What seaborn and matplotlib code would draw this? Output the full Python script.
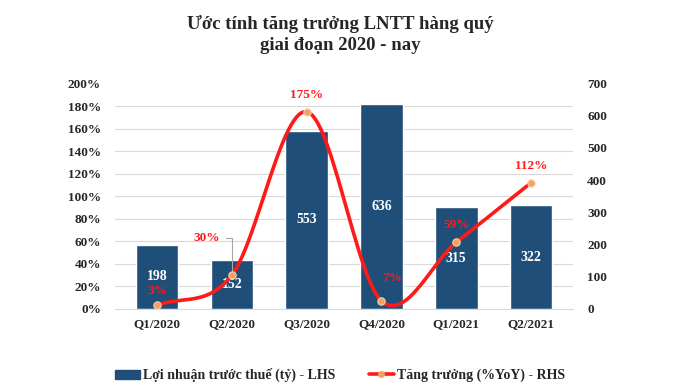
import numpy as np
import pandas as pd
import seaborn as sns
import matplotlib.pyplot as plt
from matplotlib.lines import Line2D
from matplotlib.patches import Patch

quarters = ["Q1/2020", "Q2/2020", "Q3/2020", "Q4/2020", "Q1/2021", "Q2/2021"]
profit = [198, 152, 553, 636, 315, 322]
growth = [3, 30, 175, 7, 59, 112]

sns.set_style("white")
plt.rcParams["font.family"] = ["Liberation Serif", "DejaVu Serif"]
plt.rcParams["font.weight"] = "bold"

bar_color = "#1f4e79"
line_color = "#ff1a1a"
dot_color = "#f4a15d"

df = pd.DataFrame({"quarter": quarters, "profit": profit, "growth": growth})

fig = plt.figure(figsize=(6.8, 3.87), dpi=100)
ax = fig.add_axes([0.169, 0.202, 0.674, 0.582])

# bars (right scale)
sns.barplot(data=df, x="quarter", y="profit", color=bar_color, width=0.57,
            saturation=1, ax=ax)
ax.set_ylim(0, 700)
ax.set_xlabel("")
ax.set_ylabel("")

# line axis (left scale)
ax2 = ax.twinx()
ax.yaxis.tick_right()
ax2.yaxis.tick_left()

ax.set_yticks(range(0, 701, 100))
ax.set_yticks(np.arange(0, 701, 70), minor=True)
ax.grid(False, which="major")
ax.grid(True, which="minor", axis="y", color="#d9d9d9", linewidth=0.8)
ax.set_axisbelow(True)
ax.tick_params(axis="y", which="both", length=0, labelsize=9.5, pad=10,
               labelright=True, labelleft=False)
ax.tick_params(axis="x", length=0, labelsize=9.5, pad=7)
for s in ax.spines.values():
    s.set_visible(False)
ax.spines["bottom"].set_visible(True)
ax.spines["bottom"].set_color("#d9d9d9")
for lbl in ax.get_xticklabels() + ax.get_yticklabels():
    lbl.set_fontweight("bold")

for i, v in enumerate(profit):
    ax.text(i, v / 2, str(v), color="white", ha="center", va="center",
            fontsize=10, fontweight="bold")

# smoothed line through the data points (Catmull-Rom)
xs = np.arange(len(growth), dtype=float)
ys = np.array(growth, dtype=float)
px = np.concatenate([[2 * xs[0] - xs[1]], xs, [2 * xs[-1] - xs[-2]]])
py = np.concatenate([[2 * ys[0] - ys[1]], ys, [2 * ys[-1] - ys[-2]]])
sx, sy = [], []
t = np.linspace(0, 1, 30)
for k in range(1, len(px) - 2):
    p0, p1, p2, p3 = py[k - 1], py[k], py[k + 1], py[k + 2]
    q0, q1, q2, q3 = px[k - 1], px[k], px[k + 1], px[k + 2]
    sy.append(0.5 * (2 * p1 + (-p0 + p2) * t + (2 * p0 - 5 * p1 + 4 * p2 - p3) * t**2
                     + (-p0 + 3 * p1 - 3 * p2 + p3) * t**3))
    sx.append(0.5 * (2 * q1 + (-q0 + q2) * t + (2 * q0 - 5 * q1 + 4 * q2 - q3) * t**2
                     + (-q0 + 3 * q1 - 3 * q2 + q3) * t**3))
sx = np.concatenate(sx)
sy = np.concatenate(sy)
ax2.plot(sx, sy, color=line_color, linewidth=2.6, solid_capstyle="round")
sns.scatterplot(x=xs, y=ys, color=dot_color, edgecolor="#f8d0b0", s=28,
                linewidth=0.8, zorder=5, ax=ax2)
ax2.set_ylim(0, 200)
ax2.set_yticks(range(0, 201, 20))
ax2.set_yticklabels([f"{v}%" for v in range(0, 201, 20)])
ax2.tick_params(axis="y", length=0, labelsize=9.5, pad=10,
                labelleft=True, labelright=False)
for lbl in ax2.get_yticklabels():
    lbl.set_fontweight("bold")
for s in ax2.spines.values():
    s.set_visible(False)
ax2.set_xlim(ax.get_xlim())

offsets = [(0, 6), None, (0, 8), (8, 12), (0, 8), (0, 8)]
for i, v in enumerate(growth):
    if offsets[i] is None:
        continue
    dx, dy = offsets[i]
    ax2.annotate(f"{v}%", (i, v), xytext=(dx, dy), textcoords="offset points",
                 ha="center", va="bottom", color=line_color, fontsize=9.5,
                 fontweight="bold")
ax2.annotate(f"{growth[1]}%", (1, growth[1]), xytext=(0.66, 63),
             textcoords="data", ha="center", va="center", color=line_color,
             fontsize=9.5, fontweight="bold",
             arrowprops=dict(arrowstyle="-", color="#a6a6a6", lw=0.8,
                             shrinkA=2, shrinkB=3,
                             connectionstyle="angle,angleA=0,angleB=90,rad=0"))

fig.text(0.5, 0.912, "Ước tính tăng trưởng LNTT hàng quý\ngiai đoạn 2020 - nay",
         ha="center", va="center", fontsize=13.5, fontweight="bold",
         linespacing=1.3)

handles = [Patch(color=bar_color),
           Line2D([0], [0], color=line_color, lw=2.6, marker="o",
                  markersize=4, markerfacecolor=dot_color,
                  markeredgecolor=dot_color)]
fig.legend(handles, ["Lợi nhuận trước thuế (tỷ) - LHS", "Tăng trưởng (%YoY) - RHS"],
           loc="center", bbox_to_anchor=(0.5, 0.03), ncol=2, frameon=False,
           fontsize=10, handlelength=1.8, columnspacing=2.4, handletextpad=0.2)

fig.savefig("out.png", dpi=100)
